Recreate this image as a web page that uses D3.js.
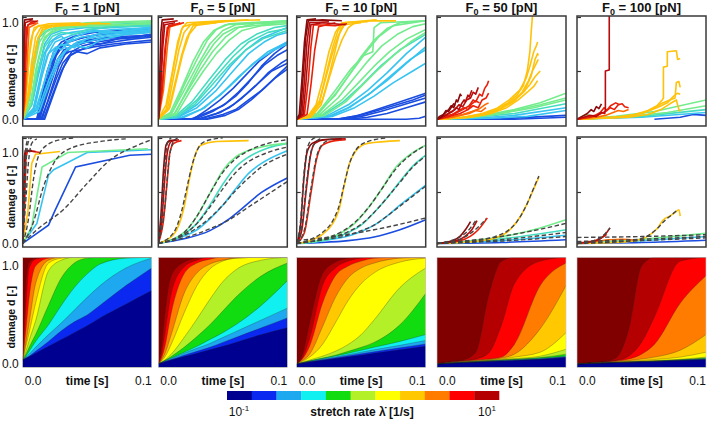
<!DOCTYPE html>
<html><head><meta charset="utf-8">
<script src="https://cdn.jsdelivr.net/npm/d3@7"></script>
<style>
body{margin:0;background:#fff;}
text{font-family:"Liberation Sans",Arial,Helvetica,sans-serif;fill:#111;}
</style>
</head><body>
<svg id="c" width="708" height="421"></svg>
<script>
// ---------------- DATA ----------------
const forces = [1, 5, 10, 50, 100];
const timeTicks = [0, 0.1];
const damageTicks = [0, 1];
const rateTickLabels = [["10", "-1"], ["10", "1"]];
const colorbarColors = ["#000090","#0a28f0","#1ea8f0","#10f0f0","#10dc10","#b4f028","#ffff00","#ffc800","#ff7c00","#ff0000","#b40000"];
const contourColors = colorbarColors.concat(["#800000"]);
const lineColors = {B:"#1a4ce0", C:"#38c4f0", T:"#44dcc0", G:"#72ec8c", Y:"#ffc20a", O:"#ff6a00", R:"#e8200a", D:"#b80c0c", M:"#8a0a0a"};

// row 3: contour boundaries d(t) at contourTimes, lowest (navy|blue) to highest (darkred|maroon)
const contourTimes = [0, 0.0025, 0.005, 0.01, 0.02, 0.03, 0.04, 0.05, 0.06, 0.08, 0.1];
const boundsF1 = [
 [.04,.058,.075,.11,.18,.25,.32,.39,.47,.61,.75],
 [.04,.06,.08,.13,.23,.34,.43,.5,.6,.8,.98],
 [.04,.07,.1,.17,.3,.42,.55,.68,.8,.98,1.08],
 [.04,.08,.13,.23,.4,.6,.78,.92,1.02,1.08,1.1],
 [.04,.1,.17,.3,.6,.88,1.03,1.08,1.1,1.1,1.1],
 [.04,.13,.24,.44,.95,1.06,1.1,1.1,1.1,1.1,1.1],
 [.04,.18,.32,.62,1.03,1.08,1.1,1.1,1.1,1.1,1.1],
 [.04,.22,.42,.82,1.06,1.1,1.1,1.1,1.1,1.1,1.1],
 [.04,.35,.68,1.0,1.08,1.1,1.1,1.1,1.1,1.1,1.1],
 [.04,.6,.98,1.07,1.1,1.1,1.1,1.1,1.1,1.1,1.1],
 [.04,.85,1.04,1.08,1.1,1.1,1.1,1.1,1.1,1.1,1.1]
];
const boundsF5 = [
 [0,.01,.02,.04,.075,.11,.145,.18,.22,.3,.37],
 [0,.012,.024,.045,.09,.13,.17,.22,.27,.37,.47],
 [0,.014,.028,.055,.11,.16,.21,.27,.33,.45,.57],
 [0,.016,.03,.06,.12,.18,.25,.32,.4,.6,.85],
 [0,.018,.035,.075,.17,.28,.4,.54,.68,.9,1.03],
 [0,.02,.04,.1,.27,.46,.66,.84,.96,1.06,1.1],
 [0,.03,.07,.2,.52,.8,.97,1.05,1.08,1.1,1.1],
 [0,.04,.1,.3,.72,.93,1.02,1.06,1.08,1.1,1.1],
 [0,.06,.17,.52,.92,1.03,1.07,1.1,1.1,1.1,1.1],
 [0,.1,.3,.72,.99,1.06,1.1,1.1,1.1,1.1,1.1],
 [0,.18,.5,.9,1.04,1.08,1.1,1.1,1.1,1.1,1.1]
];
const boundsF10 = [
 [0,.005,.01,.02,.037,.055,.073,.09,.11,.145,.18],
 [0,.006,.012,.024,.044,.064,.085,.105,.125,.165,.205],
 [0,.0065,.013,.026,.05,.072,.096,.12,.145,.19,.24],
 [0,.007,.014,.028,.055,.082,.11,.14,.17,.23,.3],
 [0,.008,.016,.032,.06,.09,.13,.17,.22,.4,.72],
 [0,.01,.02,.04,.08,.13,.2,.3,.45,.78,.98],
 [0,.015,.03,.07,.2,.42,.65,.82,.93,1.04,1.08],
 [0,.02,.04,.1,.38,.68,.88,.98,1.03,1.08,1.1],
 [0,.025,.06,.18,.62,.9,1.0,1.05,1.08,1.1,1.1],
 [0,.03,.08,.26,.8,.98,1.05,1.08,1.1,1.1,1.1],
 [0,.04,.12,.42,.92,1.04,1.08,1.1,1.1,1.1,1.1]
];
const boundsF50 = [
 [0,.002,.003,.007,.013,.019,.025,.03,.036,.047,.065],
 [0,.002,.004,.008,.014,.02,.026,.032,.038,.05,.07],
 [0,.002,.004,.008,.015,.021,.028,.034,.041,.054,.075],
 [0,.002,.004,.009,.016,.023,.03,.037,.044,.058,.08],
 [0,.002,.005,.01,.018,.025,.032,.04,.048,.065,.1],
 [0,.003,.006,.012,.02,.028,.036,.044,.055,.08,.15],
 [0,.003,.007,.013,.022,.03,.04,.05,.07,.12,.32],
 [0,.004,.008,.015,.025,.035,.045,.06,.1,.36,.8],
 [0,.005,.01,.02,.03,.04,.05,.07,.2,.8,1.03],
 [0,.005,.01,.02,.03,.05,.11,.4,.82,1.05,1.1],
 [0,.005,.01,.02,.04,.12,.7,1.05,1.1,1.1,1.1]
];
const boundsF100 = [
 [0,.002,.003,.006,.01,.014,.018,.022,.026,.035,.045],
 [0,.002,.003,.006,.01,.015,.019,.023,.027,.037,.048],
 [0,.002,.003,.006,.011,.015,.019,.024,.028,.039,.051],
 [0,.002,.003,.006,.011,.016,.02,.025,.029,.04,.055],
 [0,.002,.003,.006,.011,.016,.02,.025,.03,.042,.06],
 [0,.002,.004,.007,.012,.017,.022,.028,.034,.048,.07],
 [0,.002,.004,.008,.014,.02,.027,.035,.045,.07,.12],
 [0,.003,.005,.009,.016,.025,.035,.05,.07,.14,.3],
 [0,.003,.006,.01,.018,.03,.05,.1,.2,.62,.9],
 [0,.003,.006,.01,.02,.035,.08,.22,.48,1.05,1.1],
 [0,.003,.006,.01,.02,.06,.35,1.0,1.1,1.1,1.1]
];
const contourBounds = [boundsF1, boundsF5, boundsF10, boundsF50, boundsF100];

// row 1: stochastic simulation runs [colour, [[t, d], ...]]
const runsF1 = [
 ["B",[[0,0],[.012,0],[.017,.2],[.022,.45],[.027,.62],[.032,.72],[.04,.76],[.05,.8],[.06,.78],[.075,.84],[.09,.86],[.1,.88]]],
 ["B",[[0,0],[.013,0],[.019,.25],[.025,.5],[.03,.65],[.036,.7],[.045,.72],[.055,.77],[.07,.8],[.085,.83],[.1,.85]]],
 ["B",[[0,0],[.011,0],[.016,.3],[.021,.55],[.026,.7],[.033,.8],[.045,.84],[.06,.88],[.08,.9],[.1,.93]]],
 ["B",[[0,0],[.014,0],[.02,.2],[.026,.42],[.031,.58],[.036,.66],[.042,.7],[.05,.68],[.06,.74],[.08,.78],[.1,.8]]],
 ["B",[[0,0],[.015,0],[.022,.3],[.028,.55],[.034,.7],[.04,.78],[.05,.82],[.065,.85],[.08,.84],[.1,.88]]],
 ["B",[[0,0],[.012,0],[.018,.35],[.024,.62],[.029,.75],[.036,.8],[.05,.86],[.07,.9],[.1,.91]]],
 ["B",[[0,0],[.016,0],[.023,.25],[.03,.5],[.037,.66],[.045,.72],[.055,.75],[.07,.78],[.085,.8],[.1,.82]]],
 ["B",[[0,0],[.013,0],[.02,.4],[.026,.66],[.032,.78],[.04,.75],[.048,.8],[.06,.83],[.08,.86],[.1,.87]]],
 ["B",[[0,0],[.017,0],[.025,.3],[.032,.55],[.038,.7],[.046,.76],[.058,.8],[.072,.83],[.1,.86]]],
 ["B",[[0,0],[.011,0],[.015,.25],[.019,.5],[.024,.7],[.03,.8],[.04,.86],[.055,.9],[.1,.94]]],
 ["C",[[0,0],[.008,.1],[.013,.4],[.018,.7],[.024,.82],[.03,.86],[.035,.8],[.04,.85],[.05,.9],[.07,.93],[.1,.95]]],
 ["C",[[0,0],[.009,.1],[.015,.45],[.02,.68],[.026,.75],[.03,.72],[.036,.8],[.045,.85],[.06,.88],[.08,.92],[.1,.94]]],
 ["C",[[0,0],[.01,.1],[.016,.35],[.022,.6],[.028,.76],[.034,.78],[.04,.74],[.048,.82],[.06,.9],[.08,.9],[.1,.93]]],
 ["C",[[0,0],[.007,.15],[.012,.5],[.017,.78],[.022,.88],[.03,.92],[.05,.95],[.08,.96],[.1,.97]]],
 ["C",[[0,0],[.011,.1],[.018,.45],[.024,.7],[.03,.78],[.036,.72],[.04,.78],[.05,.8],[.065,.86],[.1,.9]]],
 ["C",[[0,0],[.012,.1],[.02,.4],[.027,.62],[.032,.7],[.04,.76],[.05,.74],[.06,.82],[.08,.88],[.1,.92]]],
 ["C",[[0,0],[.009,.12],[.014,.42],[.019,.66],[.025,.8],[.032,.84],[.04,.88],[.055,.92],[.075,.9],[.1,.96]]],
 ["C",[[0,0],[.013,.08],[.021,.38],[.028,.6],[.034,.72],[.042,.8],[.052,.84],[.068,.88],[.085,.9],[.1,.91]]],
 ["C",[[0,0],[.008,.2],[.012,.45],[.016,.66],[.021,.8],[.028,.87],[.038,.9],[.06,.94],[.1,.98]]],
 ["T",[[0,0],[.006,.15],[.011,.55],[.016,.82],[.022,.9],[.03,.94],[.045,.96],[.06,.95],[.08,.98],[.1,.99]]],
 ["T",[[0,0],[.005,.2],[.009,.6],[.013,.85],[.02,.93],[.035,.97],[.06,.98],[.1,1.0]]],
 ["T",[[0,0],[.007,.15],[.012,.5],[.017,.75],[.023,.86],[.03,.9],[.04,.88],[.05,.93],[.07,.96],[.1,.97]]],
 ["G",[[0,0],[.005,.2],[.009,.55],[.013,.8],[.018,.9],[.025,.95],[.04,.97],[.06,.99],[.08,.98],[.1,1.0]]],
 ["G",[[0,0],[.006,.15],[.01,.5],[.015,.78],[.02,.88],[.03,.94],[.05,.98],[.07,1.0],[.1,1.01]]],
 ["G",[[0,0],[.007,.2],[.012,.6],[.017,.85],[.024,.93],[.04,.96],[.06,.97],[.1,.99]]],
 ["G",[[0,0],[.004,.2],[.008,.6],[.012,.85],[.02,.96],[.05,1.0],[.1,1.02]]],
 ["Y",[[0,0],[.003,.3],[.005,.65],[.008,.9],[.012,.97],[.03,.98],[.05,.99],[.068,.99]]],
 ["Y",[[0,0],[.004,.25],[.007,.6],[.01,.85],[.014,.95],[.03,.97],[.05,.98]]],
 ["Y",[[0,0],[.005,.3],[.008,.55],[.011,.8],[.016,.96],[.04,.99]]],
 ["Y",[[0,0],[.006,.3],[.009,.6],[.012,.84],[.016,.93],[.025,.97],[.06,1.0]]],
 ["Y",[[0,0],[.0035,.4],[.006,.8],[.009,.95],[.02,.99],[.045,1.0]]],
 ["O",[[0,0],[.002,.2],[.0035,.6],[.005,.95],[.012,1.0]]],
 ["R",[[0,0],[.001,.2],[.002,.6],[.003,.95],[.006,1.0],[.012,1.02]]],
 ["R",[[0,0],[.0015,.3],[.003,.8],[.004,.98],[.01,1.0]]],
 ["D",[[0,0],[.0008,.3],[.0015,.8],[.002,1.0],[.006,1.02],[.011,1.01]]],
 ["M",[[0,0],[.0005,.5],[.001,.95],[.0015,1.03],[.008,1.04]]]
];
const runsF5 = [
 ["B",[[0,0],[.025,0],[.04,.08],[.05,.14],[.06,.24],[.07,.38],[.08,.55],[.09,.68],[.1,.78]]],
 ["B",[[0,0],[.03,0],[.045,.06],[.055,.12],[.065,.22],[.075,.34],[.085,.48],[.095,.58],[.1,.62]]],
 ["B",[[0,0],[.028,0],[.042,.08],[.052,.16],[.062,.28],[.072,.42],[.082,.56],[.092,.66],[.1,.72]]],
 ["B",[[0,0],[.035,0],[.05,.05],[.06,.1],[.07,.2],[.08,.3],[.09,.42],[.1,.52]]],
 ["B",[[0,0],[.032,0],[.048,.07],[.058,.15],[.068,.26],[.078,.38],[.088,.5],[.1,.58]]],
 ["B",[[0,0],[.038,0],[.052,.04],[.062,.1],[.072,.2],[.082,.32],[.092,.45],[.1,.55]]],
 ["B",[[0,0],[.027,0],[.038,.1],[.048,.2],[.058,.32],[.068,.46],[.078,.6],[.09,.72],[.1,.8]]],
 ["C",[[0,0],[.015,.02],[.03,.12],[.045,.3],[.058,.5],[.07,.68],[.082,.8],[.092,.87],[.1,.9]]],
 ["C",[[0,0],[.018,.02],[.033,.1],[.048,.25],[.06,.4],[.072,.56],[.085,.7],[.1,.8]]],
 ["C",[[0,0],[.016,.03],[.03,.15],[.044,.34],[.056,.55],[.068,.72],[.08,.84],[.1,.95]]],
 ["C",[[0,0],[.02,.02],[.036,.12],[.05,.28],[.063,.45],[.076,.6],[.09,.72],[.1,.78]]],
 ["T",[[0,0],[.013,.03],[.026,.18],[.04,.42],[.052,.62],[.064,.78],[.076,.88],[.09,.95],[.1,.97]]],
 ["T",[[0,0],[.014,.03],[.028,.15],[.042,.36],[.055,.56],[.068,.72],[.082,.84],[.1,.92]]],
 ["T",[[0,0],[.015,.03],[.03,.2],[.045,.45],[.058,.65],[.07,.8],[.085,.9],[.1,.94]]],
 ["G",[[0,0],[.01,.05],[.02,.3],[.03,.55],[.04,.78],[.05,.92],[.06,.98],[.08,1.0],[.1,1.01]]],
 ["G",[[0,0],[.012,.05],[.022,.28],[.032,.5],[.042,.7],[.052,.85],[.062,.95],[.075,.99],[.1,1.0]]],
 ["G",[[0,0],[.011,.08],[.02,.35],[.03,.62],[.038,.82],[.045,.93],[.055,.99],[.1,1.02]]],
 ["G",[[0,0],[.014,.05],[.025,.3],[.035,.5],[.045,.68],[.055,.82],[.065,.92],[.08,.97],[.1,.99]]],
 ["G",[[0,0],[.013,.06],[.023,.32],[.033,.58],[.043,.78],[.05,.88],[.06,.95],[.09,.99]]],
 ["G",[[0,0],[.009,.06],[.018,.32],[.027,.6],[.035,.8],[.043,.92],[.052,.98],[.1,1.02]]],
 ["Y",[[0,0],[.006,.1],[.01,.4],[.014,.7],[.018,.93],[.022,1.0],[.05,1.02],[.079,1.03]]],
 ["Y",[[0,0],[.007,.1],[.012,.45],[.016,.72],[.02,.9],[.025,.98],[.06,1.02]]],
 ["Y",[[0,0],[.008,.1],[.013,.38],[.018,.66],[.022,.84],[.027,.97],[.045,1.0]]],
 ["Y",[[0,0],[.006,.15],[.011,.5],[.015,.8],[.019,.96],[.03,1.0],[.07,1.03]]],
 ["Y",[[0,0],[.009,.12],[.014,.4],[.019,.68],[.024,.88],[.03,.98],[.05,1.01]]],
 ["O",[[0,0],[.004,.3],[.007,.75],[.009,.96],[.018,.99]]],
 ["R",[[0,0],[.003,.3],[.005,.7],[.007,.95],[.017,1.0]]],
 ["R",[[0,0],[.0035,.4],[.006,.8],[.008,.97],[.02,1.0]]],
 ["D",[[0,0],[.0015,.3],[.003,.8],[.004,1.0],[.015,1.02]]],
 ["D",[[0,0],[.002,.35],[.0035,.75],[.005,.98],[.013,1.0]]],
 ["M",[[0,0],[.001,.4],[.002,.9],[.003,1.03],[.012,1.04]]]
];
const runsF10 = [
 ["B",[[0,0],[.03,0],[.045,.03],[.06,.08],[.075,.14],[.09,.2],[.1,.25]]],
 ["B",[[0,0],[.035,0],[.05,.03],[.065,.08],[.08,.14],[.1,.22]]],
 ["B",[[0,0],[.032,0],[.048,.04],[.062,.1],[.078,.17],[.1,.27]]],
 ["B",[[0,0],[.04,0],[.055,.02],[.07,.06],[.085,.12],[.1,.18]]],
 ["B",[[0,0],[.085,0],[.095,.01],[.1,.03]]],
 ["C",[[0,0],[.025,.03],[.04,.12],[.055,.25],[.07,.4],[.085,.58],[.1,.75]]],
 ["C",[[0,0],[.028,.03],[.045,.12],[.06,.24],[.075,.38],[.09,.5],[.1,.58]]],
 ["C",[[0,0],[.024,.04],[.04,.15],[.055,.3],[.07,.48],[.085,.68],[.1,.85]]],
 ["C",[[0,0],[.026,.03],[.042,.13],[.058,.28],[.072,.44],[.088,.62],[.1,.72]]],
 ["T",[[0,0],[.02,.04],[.036,.18],[.05,.35],[.065,.55],[.08,.72],[.1,.88]]],
 ["G",[[0,0],[.015,.05],[.03,.25],[.04,.45],[.05,.65],[.06,.82],[.07,.94],[.08,1.0],[.1,1.02]]],
 ["G",[[0,0],[.018,.05],[.032,.22],[.044,.42],[.055,.6],[.066,.76],[.078,.88],[.09,.96],[.1,.99]]],
 ["G",[[0,0],[.02,.05],[.035,.2],[.048,.38],[.06,.55],[.072,.7],[.085,.83],[.1,.93]]],
 ["G",[[0,0],[.016,.06],[.03,.3],[.042,.52],[.052,.66],[.059,.7],[.06,.95],[.065,1.0],[.1,1.02]]],
 ["G",[[0,0],[.022,.04],[.038,.18],[.05,.34],[.062,.5],[.075,.66],[.088,.8],[.1,.9]]],
 ["G",[[0,0],[.017,.06],[.031,.28],[.043,.5],[.054,.7],[.064,.86],[.075,.97],[.1,1.02]]],
 ["Y",[[0,0],[.008,.02],[.015,.15],[.02,.4],[.025,.7],[.03,.9],[.035,1.0],[.06,1.02],[.077,1.02]]],
 ["Y",[[0,0],[.009,.02],[.017,.15],[.022,.4],[.027,.65],[.032,.86],[.037,.98],[.05,1.0]]],
 ["Y",[[0,0],[.01,.03],[.018,.2],[.023,.48],[.028,.75],[.032,.92],[.036,1.0],[.062,1.03]]],
 ["Y",[[0,0],[.011,.02],[.019,.15],[.025,.42],[.03,.64],[.035,.82],[.04,.95],[.045,1.0]]],
 ["Y",[[0,0],[.01,.02],[.02,.2],[.026,.5],[.031,.78],[.034,.93],[.038,1.0],[.055,1.01]]],
 ["R",[[0,0],[.006,.05],[.009,.4],[.011,.75],[.013,.98],[.03,.97],[.039,.99]]],
 ["R",[[0,0],[.008,.05],[.011,.35],[.014,.72],[.017,.96],[.03,1.0]]],
 ["D",[[0,0],[.004,.05],[.006,.4],[.008,.8],[.01,1.0],[.025,1.01]]],
 ["D",[[0,0],[.005,.05],[.007,.35],[.009,.7],[.011,.98],[.02,1.0],[.038,.98]]],
 ["M",[[0,0],[.002,.05],[.004,.4],[.006,.8],[.008,1.03],[.015,1.04]]],
 ["M",[[0,0],[.003,.05],[.005,.45],[.007,.85],[.009,1.02],[.02,1.03],[.035,1.02]]]
];
const runsF50 = [
 ["B",[[0,0],[.05,.005],[.1,.04]]],
 ["B",[[0,0],[.06,0],[.1,.02]]],
 ["C",[[0,0],[.03,.01],[.06,.04],[.1,.12]]],
 ["C",[[0,0],[.04,.01],[.07,.03],[.1,.09]]],
 ["T",[[0,0],[.03,.02],[.06,.06],[.1,.16]]],
 ["G",[[0,0],[.02,.02],[.04,.05],[.06,.1],[.08,.17],[.1,.27]]],
 ["G",[[0,0],[.02,.01],[.04,.04],[.06,.09],[.08,.15],[.1,.22]]],
 ["G",[[0,0],[.025,.02],[.05,.06],[.075,.12],[.1,.2]]],
 ["Y",[[0,0],[.02,.02],[.035,.05],[.045,.1],[.055,.17],[.062,.25],[.067,.35],[.07,.5],[.072,.7],[.073,.9],[.074,1.1]]],
 ["Y",[[0,0],[.02,.02],[.035,.06],[.046,.11],[.056,.2],[.064,.3],[.069,.42],[.072,.55],[.075,.7],[.077,.76],[.078,.8]]],
 ["Y",[[0,0],[.022,.02],[.037,.05],[.048,.1],[.058,.18],[.066,.28],[.071,.4],[.074,.5],[.077,.58],[.0785,.62]]],
 ["Y",[[0,0],[.025,.02],[.04,.06],[.05,.12],[.06,.2],[.067,.28],[.072,.36],[.076,.44],[.08,.5]]],
 ["Y",[[0,0],[.024,.02],[.038,.05],[.05,.11],[.06,.19],[.068,.3],[.073,.45],[.076,.62],[.078,.68],[.0785,.66]]],
 ["Y",[[0,0],[.026,.02],[.042,.06],[.054,.12],[.063,.2],[.07,.28],[.075,.34],[.078,.4]]],
 ["O",[[0,0],[.012,.02],[.02,.05],[.027,.08],[.033,.11],[.037,.15],[.04,.17]]],
 ["O",[[0,0],[.01,.02],[.018,.04],[.025,.06],[.03,.09],[.034,.08],[.038,.12]]],
 ["R",[[0,0],[.008,.03],[.014,.06],[.02,.1],[.025,.14],[.028,.2],[.03,.18],[.033,.26],[.035,.24],[.037,.32],[.039,.36],[.04,.4]]],
 ["R",[[0,0],[.01,.03],[.018,.06],[.024,.1],[.028,.14],[.032,.12],[.035,.2],[.038,.22],[.04,.27]]],
 ["R",[[0,0],[.006,.03],[.012,.05],[.017,.09],[.021,.12],[.024,.1],[.027,.16],[.03,.19],[.033,.17]]],
 ["D",[[0,0],[.004,.02],[.008,.05],[.012,.08],[.015,.12],[.017,.1],[.019,.16],[.021,.2],[.022,.18],[.024,.25],[.025,.23],[.027,.3]]],
 ["D",[[0,0],[.005,.03],[.01,.07],[.014,.1],[.017,.15],[.02,.13],[.023,.2],[.026,.22],[.028,.28],[.03,.26],[.032,.33]]],
 ["M",[[0,0],[.003,.02],[.006,.06],[.009,.1],[.011,.14],[.013,.12],[.015,.2],[.016,.18],[.018,.26],[.019,.24]]],
 ["M",[[0,0],[.002,.03],[.005,.05],[.007,.09],[.009,.08],[.011,.12],[.013,.16],[.014,.14]]]
];
const runsF100 = [
 ["B",[[.06,0],[.08,.02],[.09,.05],[.1,.04]]],
 ["C",[[0,0],[.05,.02],[.1,.07]]],
 ["T",[[0,0],[.05,.03],[.1,.1]]],
 ["G",[[0,0],[.03,.03],[.06,.08],[.1,.2]]],
 ["G",[[0,0],[.04,.03],[.07,.07],[.1,.14]]],
 ["G",[[0,0],[.004,.03],[.008,.05],[.012,.02]]],
 ["Y",[[0,0],[.03,.02],[.045,.05],[.055,.09],[.062,.14],[.066,.2],[.067,.22],[.067,.54],[.07,.55],[.07,.7],[.077,.71],[.078,.62],[.08,.63]]],
 ["Y",[[0,0],[.035,.02],[.05,.06],[.058,.1],[.065,.16],[.072,.2],[.076,.22],[.077,.38],[.079,.39],[.08,.33]]],
 ["Y",[[0,0],[.04,.02],[.055,.05],[.065,.1],[.072,.16],[.077,.2],[.079,.1],[.08,.08]]],
 ["Y",[[0,0],[.038,.03],[.052,.07],[.062,.12],[.07,.17],[.075,.24],[.078,.27],[.08,.26]]],
 ["O",[[0,0],[.015,.02],[.022,.04],[.028,.07],[.032,.09],[.036,.08],[.04,.1]]],
 ["R",[[0,0],[.01,.02],[.017,.05],[.022,.08],[.026,.12],[.029,.1],[.032,.15],[.035,.16],[.037,.13],[.04,.12]]],
 ["R",[[0,0],[.008,.02],[.014,.04],[.018,.07],[.021,.12],[.023,.09],[.026,.14],[.03,.17],[.033,.15]]],
 ["M",[[0,0],[.004,.03],[.008,.06],[.011,.1],[.013,.08],[.015,.13],[.017,.11],[.019,.16]]],
 ["D",[[0,0],[.005,.02],[.01,.04],[.015,.03],[.019,.07],[.0215,.06],[.022,.1],[.022,.5],[.025,.51],[.025,1.1]]]
];
const runsRow1 = [runsF1, runsF5, runsF10, runsF50, runsF100];

// row 2: mean simulation curves (solid) and model fits (dashed)
const meanF1 = [
 ["B",[[0,0],[.02,.2],[.025,.36],[.041,.84],[.083,.97],[.1,.98]]],
 ["C",[[0,0],[.011,.22],[.02,.75],[.024,.81],[.05,1.0],[.1,1.03]]],
 ["G",[[0,0],[.007,.18],[.0095,.4],[.015,.84],[.035,1.0],[.097,1.04]]],
 ["Y",[[0,0],[.004,.35],[.007,.88],[.01,.98],[.029,1.01]]],
 ["R",[[0,0],[.0015,.4],[.0025,.95],[.004,1.02],[.0134,1.0]]],
 ["D",[[0,0],[.001,.5],[.002,.98],[.003,1.02],[.01,1.01]]],
 ["M",[[0,0],[.0007,.5],[.0013,.95],[.002,1.02],[.007,1.02]]]
];
const fitF1 = [
 [[0,0],[.011,.15],[.0315,.37],[.05,.66],[.068,.92],[.086,1.06],[.1,1.14]],
 [[0,0],[.008,.22],[.016,.62],[.024,.88],[.037,1.045],[.06,1.12],[.08,1.15]],
 [[0,0],[.0044,.26],[.0083,.7],[.012,.95],[.0186,1.08],[.029,1.14],[.04,1.16]],
 [[0,0],[.0026,.51],[.0044,.88],[.007,1.1],[.011,1.15]],
 [[0,0],[.0015,.5],[.003,.98],[.0045,1.12],[.007,1.16]],
 [[0,0],[.001,.5],[.002,.95],[.003,1.1],[.005,1.16]]
];
const meanF5 = [
 ["B",[[0,0],[.02,.05],[.04,.14],[.055,.27],[.063,.36],[.08,.56],[.1,.72]]],
 ["C",[[0,0],[.02,.08],[.03,.15],[.04,.27],[.05,.42],[.06,.6],[.07,.77],[.08,.88],[.1,1.02]]],
 ["T",[[0,0],[.02,.1],[.03,.22],[.04,.42],[.05,.65],[.06,.84],[.07,.95],[.085,1.05],[.1,1.1]]],
 ["G",[[0,0],[.02,.12],[.03,.3],[.04,.55],[.05,.8],[.06,.95],[.08,1.06],[.1,1.1]]],
 ["Y",[[0,0],[.012,.1],[.02,.4],[.024,.7],[.028,.95],[.033,1.08],[.045,1.12],[.07,1.13]]],
 ["R",[[0,0],[.004,.25],[.007,.7],[.009,1.0],[.012,1.1],[.018,1.13]]],
 ["D",[[0,0],[.003,.3],[.005,.7],[.007,1.0],[.01,1.12],[.016,1.14]]],
 ["M",[[0,0],[.002,.3],[.004,.8],[.006,1.08],[.009,1.13],[.014,1.14]]]
];
const fitF5 = [
 [[0,0],[.02,.06],[.04,.16],[.055,.26],[.07,.4],[.085,.54],[.1,.68]],
 [[0,0],[.02,.09],[.03,.17],[.04,.28],[.05,.42],[.06,.58],[.07,.72],[.08,.84],[.1,.98]],
 [[0,0],[.02,.1],[.03,.22],[.04,.4],[.05,.6],[.06,.78],[.07,.9],[.085,1.0],[.1,1.06]],
 [[0,0],[.02,.12],[.03,.3],[.04,.55],[.05,.78],[.06,.93],[.07,1.02],[.085,1.1],[.1,1.14]],
 [[0,0],[.012,.12],[.018,.35],[.022,.6],[.026,.85],[.03,1.02],[.036,1.12],[.05,1.16]],
 [[0,0],[.005,.4],[.008,.88],[.011,1.1],[.015,1.16]],
 [[0,0],[.003,.4],[.005,.85],[.007,1.1],[.01,1.16]]
];
const meanF10 = [
 ["B",[[0,0],[.02,.01],[.04,.03],[.06,.07],[.08,.15],[.1,.26]]],
 ["C",[[0,0],[.02,.03],[.04,.08],[.05,.13],[.06,.2],[.07,.3],[.08,.42],[.09,.53],[.1,.64]]],
 ["T",[[0,0],[.02,.03],[.04,.12],[.05,.2],[.06,.34],[.07,.5],[.08,.68],[.09,.85],[.1,.97]]],
 ["G",[[0,0],[.02,.04],[.035,.12],[.045,.22],[.056,.4],[.066,.6],[.077,.84],[.088,.98],[.1,1.08]]],
 ["Y",[[0,0],[.01,.03],[.02,.1],[.028,.22],[.033,.38],[.037,.65],[.041,.88],[.046,1.02],[.055,1.1],[.08,1.13]]],
 ["R",[[0,0],[.006,.12],[.011,.55],[.015,.9],[.02,1.08],[.03,1.13],[.038,1.14]]],
 ["D",[[0,0],[.004,.15],[.0075,.6],[.0105,.95],[.014,1.1],[.022,1.14],[.038,1.15]]],
 ["M",[[0,0],[.003,.2],[.0055,.7],[.008,1.0],[.012,1.1],[.02,1.14],[.035,1.15]]]
];
const fitF10 = [
 [[0,.03],[.01,.045],[.02,.06],[.04,.1],[.06,.15],[.08,.21],[.1,.28]],
 [[0,0],[.02,.04],[.04,.09],[.05,.14],[.06,.2],[.07,.3],[.08,.41],[.09,.52],[.1,.63]],
 [[0,0],[.02,.04],[.04,.13],[.05,.21],[.06,.34],[.07,.5],[.08,.67],[.09,.84],[.1,.96]],
 [[0,0],[.02,.05],[.035,.13],[.045,.23],[.056,.4],[.066,.6],[.077,.82],[.088,.97],[.1,1.08]],
 [[0,0],[.01,.04],[.02,.12],[.028,.25],[.033,.42],[.037,.66],[.041,.88],[.046,1.03],[.055,1.12],[.07,1.16]],
 [[0,0],[.006,.15],[.011,.6],[.015,.93],[.02,1.09],[.028,1.15]],
 [[0,0],[.004,.2],[.0075,.65],[.0105,.97],[.014,1.1],[.02,1.16]],
 [[0,0],[.003,.25],[.0055,.75],[.008,1.03],[.011,1.13],[.016,1.17]]
];
const meanF50 = [
 ["B",[[0,0],[.05,.01],[.1,.04]]],
 ["C",[[0,0],[.05,.03],[.1,.09]]],
 ["T",[[0,0],[.05,.05],[.1,.15]]],
 ["G",[[0,0],[.02,.02],[.04,.05],[.06,.1],[.08,.17],[.1,.26]]],
 ["Y",[[0,0],[.02,.01],[.035,.03],[.045,.06],[.055,.13],[.062,.24],[.07,.44],[.075,.6],[.079,.73]]],
 ["R",[[0,0],[.018,.03],[.026,.08],[.032,.15],[.036,.22],[.039,.28]]],
 ["D",[[0,0],[.015,.03],[.022,.08],[.027,.15],[.031,.25]]],
 ["M",[[0,0],[.012,.03],[.018,.08],[.022,.15],[.026,.24]]]
];
const fitF50 = [
 [[0,0],[.02,.02],[.035,.04],[.045,.075],[.055,.14],[.062,.24],[.07,.44],[.075,.61],[.079,.74]],
 [[0,0],[.02,.025],[.04,.055],[.06,.1],[.08,.155],[.1,.22]],
 [[0,0],[.05,.04],[.1,.12]],
 [[0,0],[.05,.025],[.1,.075]],
 [[0,0],[.012,.035],[.02,.09],[.026,.17],[.03,.25]],
 [[0,0],[.016,.035],[.025,.1],[.032,.18],[.038,.27]]
];
const meanF100 = [
 ["B",[[0,0],[.05,.01],[.1,.035]]],
 ["C",[[0,0],[.05,.03],[.1,.075]]],
 ["G",[[0,0],[.05,.045],[.1,.11]]],
 ["Y",[[0,0],[.03,.01],[.045,.03],[.055,.08],[.062,.16],[.067,.26],[.072,.3],[.076,.34],[.079,.37],[.08,.3]]],
 ["O",[[0,0],[.015,.02],[.025,.04],[.035,.045],[.045,.035]]],
 ["R",[[0,0],[.01,.02],[.016,.04],[.02,.07],[.023,.1]]],
 ["D",[[0,0],[.012,.02],[.018,.05],[.022,.1],[.0256,.17]]]
];
const fitF100 = [
 [[0,.065],[.05,.075],[.1,.095]],
 [[0,.02],[.05,.045],[.1,.075]],
 [[0,.005],[.05,.03],[.1,.06]],
 [[0,0],[.03,.015],[.045,.035],[.055,.085],[.062,.16],[.068,.25],[.073,.31],[.078,.37]],
 [[0,0],[.012,.025],[.018,.06],[.022,.11],[.0256,.17]]
];
const meanRow2 = [meanF1, meanF5, meanF10, meanF50, meanF100];
const fitRow2 = [fitF1, fitF5, fitF10, fitF50, fitF100];

// ---------------- LAYOUT ----------------
const W = 129, H = 110;
const colLeft = [22.7, 158.3, 296.7, 437, 577];
const rowTop = [16, 137, 257.3];
const yDomains = [[-0.07, 1.07], [-0.04, 1.17], [-0.034, 1.089]];

const svg = d3.select("#c");
const defs = svg.append("defs");

forces.forEach((F, ci) => {
  const x = d3.scaleLinear().domain([0, 0.1]).range([colLeft[ci], colLeft[ci] + W]);
  const t = svg.append("text").attr("x", colLeft[ci] + W / 2).attr("y", 11.5)
    .attr("text-anchor", "middle").attr("font-size", 13).attr("font-weight", "bold");
  t.append("tspan").text("F");
  t.append("tspan").attr("font-size", 9).attr("dy", 3).text("0");
  t.append("tspan").attr("dy", -3).text(" = " + F + " [pN]");

  [0, 1, 2].forEach(ri => {
    const y = d3.scaleLinear().domain(yDomains[ri]).range([rowTop[ri] + H, rowTop[ri]]).clamp(true);
    const id = "clip" + ri + "_" + ci;
    defs.append("clipPath").attr("id", id).append("rect")
      .attr("x", colLeft[ci]).attr("y", rowTop[ri]).attr("width", W).attr("height", H);
    const g = svg.append("g").attr("clip-path", "url(#" + id + ")");

    if (ri === 2) {
      const bounds = contourBounds[ci];
      g.append("rect").attr("x", colLeft[ci]).attr("y", rowTop[ri]).attr("width", W).attr("height", H)
        .attr("fill", contourColors[11]);
      const area = d3.area().x((v, i) => x(contourTimes[i])).y0(rowTop[ri] + H).y1(v => y(v)).curve(d3.curveMonotoneX);
      const line = d3.line().x((v, i) => x(contourTimes[i])).y(v => y(v)).curve(d3.curveMonotoneX);
      for (let k = 10; k >= 0; k--) {
        g.append("path").datum(bounds[k]).attr("d", area).attr("fill", contourColors[k]);
      }
      bounds.forEach(b => g.append("path").datum(b).attr("d", line).attr("fill", "none")
        .attr("stroke", "#222").attr("stroke-opacity", 0.55).attr("stroke-width", 0.5));
      svg.append("rect").attr("x", colLeft[ci]).attr("y", rowTop[ri]).attr("width", W).attr("height", H)
        .attr("fill", "none").attr("stroke", "#c8c8c8").attr("stroke-width", 0.6);
      const ax = svg.append("g").attr("transform", "translate(0," + (rowTop[ri] + H) + ")")
        .call(d3.axisBottom(x).tickValues(timeTicks).tickFormat(d3.format(".1f")).tickSize(0).tickPadding(9));
      ax.select(".domain").remove();
      ax.selectAll("text").attr("font-size", 12).attr("fill", "#111")
        .attr("font-family", '"Liberation Sans",Arial,sans-serif')
        .attr("text-anchor", (d, i) => i === 0 ? "start" : "end")
        .attr("dx", (d, i) => i === 0 ? 1.5 : -0.5);
      svg.append("text").attr("x", colLeft[ci] + W / 2).attr("y", 385).attr("text-anchor", "middle")
        .attr("font-size", 12).attr("font-weight", "bold").text("time [s]");
    } else {
      const lineLin = d3.line().x(p => x(p[0])).y(p => y(p[1]));
      const lineSmooth = d3.line().x(p => x(p[0])).y(p => y(p[1])).curve(d3.curveMonotoneX);
      if (ri === 0) {
        runsRow1[ci].forEach(([c, pts]) => g.append("path").datum(pts).attr("d", lineLin)
          .attr("fill", "none").attr("stroke", lineColors[c]).attr("stroke-width", 1.6)
          .attr("stroke-linejoin", "round"));
      } else {
        const gen = ci === 0 ? lineLin : lineSmooth;
        meanRow2[ci].forEach(([c, pts]) => g.append("path").datum(pts).attr("d", gen)
          .attr("fill", "none").attr("stroke", lineColors[c]).attr("stroke-width", 1.6));
        fitRow2[ci].forEach(pts => g.append("path").datum(pts).attr("d", lineSmooth)
          .attr("fill", "none").attr("stroke", "#454545").attr("stroke-width", 1.4)
          .attr("stroke-dasharray", "4.5,2.5"));
      }
      const tk = svg.append("g").attr("transform", "translate(" + colLeft[ci] + ",0)")
        .call(d3.axisRight(y).tickValues([y.invert(rowTop[ri] + H / 2), y.invert(rowTop[ri] + 1)]).tickSize(4).tickFormat(""));
      tk.select(".domain").remove();
      tk.selectAll("line").attr("stroke", "#333").attr("stroke-width", 1.2);
      svg.append("rect").attr("x", colLeft[ci]).attr("y", rowTop[ri]).attr("width", W).attr("height", H)
        .attr("fill", "none").attr("stroke", "#3a3a3a").attr("stroke-width", 1.5);
    }

    if (ci === 0) {
      const ay = svg.append("g").attr("transform", "translate(" + colLeft[0] + ",0)")
        .call(d3.axisLeft(y).tickValues(damageTicks).tickFormat(d3.format(".1f")).tickSize(0).tickPadding(4));
      ay.select(".domain").remove();
      ay.selectAll("text").attr("font-size", 12).attr("fill", "#111")
        .attr("font-family", '"Liberation Sans",Arial,sans-serif');
      svg.append("text").attr("transform", "translate(14.5," + (rowTop[ri] + H / 2 + 5) + ") rotate(-90)")
        .attr("text-anchor", "middle").attr("font-size", 10.5).attr("font-weight", "bold").text("damage d [-]");
    }
  });
});

// colorbar
const cb = d3.scaleBand().domain(d3.range(colorbarColors.length)).range([227, 499]);
svg.append("g").selectAll("rect").data(colorbarColors).join("rect")
  .attr("x", (d, i) => cb(i)).attr("y", 391).attr("width", cb.bandwidth() + 0.3).attr("height", 9)
  .attr("fill", d => d);
const cbx = d3.scaleLog().domain([0.1, 10]).range([239, 487]);
[0.1, 10].forEach((v, i) => {
  const tx = svg.append("text").attr("x", cbx(v)).attr("y", 416).attr("text-anchor", "middle").attr("font-size", 12);
  tx.append("tspan").text(rateTickLabels[i][0]);
  tx.append("tspan").attr("font-size", 8).attr("dy", -5).text(rateTickLabels[i][1]);
});
const lab = svg.append("text").attr("x", 362).attr("y", 416).attr("text-anchor", "middle")
  .attr("font-size", 12).attr("font-weight", "bold");
lab.append("tspan").text("stretch rate  \u03BB\u0307 [1/s]");
</script>
</body></html>
